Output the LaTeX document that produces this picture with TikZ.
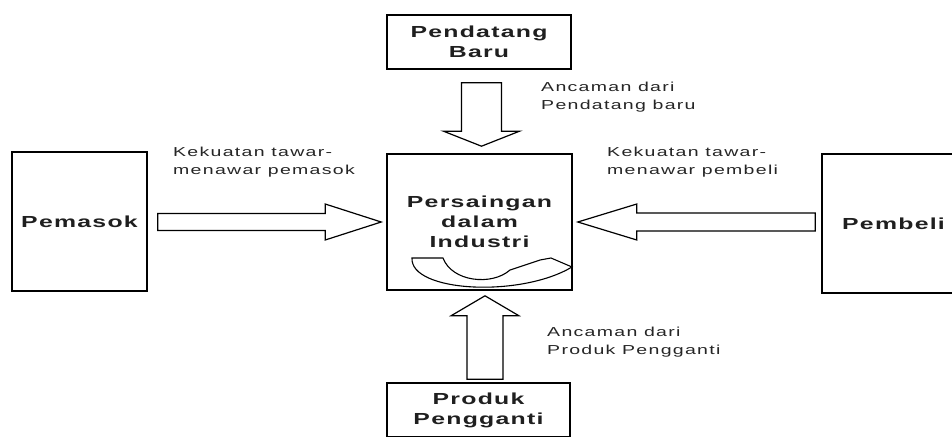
\documentclass[tikz,border=0pt]{standalone}
\usepackage{fontspec}
\usetikzlibrary{calc}
\newfontfamily\boxfont{Liberation Sans}[FakeStretch=1.55,LetterSpace=8]
\newfontfamily\lblfont{Liberation Sans}[FakeStretch=1.5,LetterSpace=10]
\begin{document}
\begin{tikzpicture}[x=1pt,y=-1pt,
  box/.style={draw=black, line width=1.6pt, rectangle, inner sep=0pt, align=center,
    font=\fontsize{16}{20}\boxfont\bfseries, text=black!88},
  lbl/.style={anchor=north west, inner sep=0pt, align=left,
    font=\fontsize{13}{18}\lblfont, text=black!85},
  barrow/.style={draw=black, line width=1.2pt, fill=white, line join=miter}]
\clip (0,0) rectangle (952,436);
\fill[white] (0,0) rectangle (952,436);

% boxes
\node[box, minimum width=184pt, minimum height=54pt] (baru) at (479,42) {Pendatang\\Baru};
\node[box, minimum width=185pt, minimum height=136pt] (ind) at (479.5,222) {Persaingan\\dalam\\Industri};
\node[box, minimum width=135pt, minimum height=139pt] (pemasok) at (79.5,221.5) {Pemasok};
\node[box, minimum width=143pt, minimum height=139pt] (pembeli) at (893.5,223.5) {Pembeli};
\node[box, minimum width=183pt, minimum height=54pt] (produk) at (478.5,410) {Produk\\Pengganti};

% right arrow: Pemasok -> Industri
\coordinate (r1) at ($(ind.west)+(-5,0)$);
\coordinate (r0) at ($(pemasok.east |- r1)+(10,0)$);
\draw[barrow] ($(r0)+(0,-8.5)$) -- ($(r1)+(-56,-8.5)$) -- ($(r1)+(-56,-18)$) -- (r1)
  -- ($(r1)+(-56,18)$) -- ($(r1)+(-56,8.5)$) -- ($(r0)+(0,8.5)$) -- cycle;

% left arrow: Pembeli -> Industri
\coordinate (l1) at ($(ind.east)+(5,0)$);
\coordinate (l0) at ($(pembeli.west |- l1)+(-6,0)$);
\draw[barrow] ($(l0)+(0,-9)$) -- ($(l1)+(59,-9)$) -- ($(l1)+(59,-18)$) -- (l1)
  -- ($(l1)+(59,18)$) -- ($(l1)+(59,9)$) -- ($(l0)+(0,9)$) -- cycle;

% down arrow: Pendatang Baru -> Industri
\coordinate (d1) at ($(ind.north)+(2,-7)$);
\coordinate (d0) at ($(d1 |- baru.south)+(0,13)$);
\draw[barrow] ($(d0)+(-20,0)$) -- ($(d1)+(-20,-15)$) -- ($(d1)+(-38,-15)$) -- (d1)
  -- ($(d1)+(38,-15)$) -- ($(d1)+(20,-15)$) -- ($(d0)+(20,0)$) -- cycle;

% up arrow: Produk Pengganti -> Industri
\coordinate (u1) at ($(ind.south)+(5.5,5)$);
\coordinate (u0) at ($(u1 |- produk.north)+(0,-3)$);
\draw[barrow] ($(u0)+(-18,0)$) -- ($(u1)+(-18,20)$) -- ($(u1)+(-34,20)$) -- (u1)
  -- ($(u1)+(34,20)$) -- ($(u1)+(18,20)$) -- ($(u0)+(18,0)$) -- cycle;

% curved arrow inside the industry box
\draw[barrow, line width=1.1pt] (412,258) -- (443,258)
  .. controls (452,282) and (492,286) .. (510,270)
  -- (540,260) -- (551,258) -- (572,267)
  .. controls (520,298) and (410,292) .. (412,258) -- cycle;

% labels
\node[lbl] (lpemasok) at (173,147) {Kekuatan tawar-\\menawar pemasok};
\node[lbl] (lpembeli) at (607,147) {Kekuatan tawar-\\menawar pembeli};
\node[lbl] (lbaru) at (541,82) {Ancaman dari\\Pendatang baru};
\node[lbl] (lproduk) at (547,327) {Ancaman dari\\Produk Pengganti};
\end{tikzpicture}
\end{document}
